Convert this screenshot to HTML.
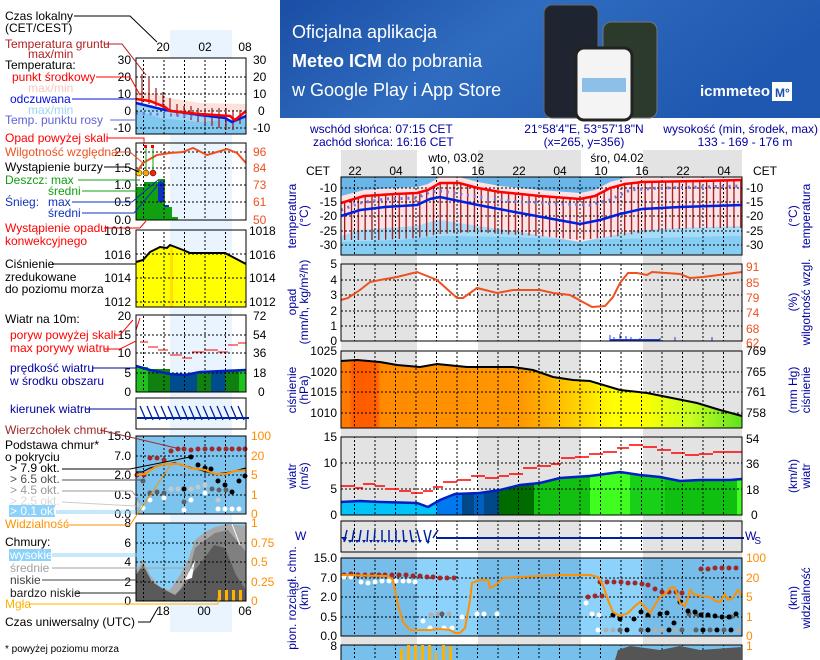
<!DOCTYPE html>
<html><head><meta charset="utf-8"><style>
html,body{margin:0;padding:0;background:#fff;}
svg{display:block;font-family:"Liberation Sans",sans-serif;}
</style></head><body>
<svg width="820" height="660" viewBox="0 0 820 660" xmlns="http://www.w3.org/2000/svg">
<defs>
<pattern id="vg" patternUnits="userSpaceOnUse" x="354" y="0" width="20.5" height="4"><rect x="0" y="0" width="1" height="2" fill="#000"/></pattern>
<pattern id="vgl" patternUnits="userSpaceOnUse" x="143" y="0" width="20.5" height="4"><rect x="0" y="0" width="1" height="2" fill="#000"/></pattern>
<pattern id="gt" patternUnits="userSpaceOnUse" x="344" y="0" width="6.83" height="10"><rect x="0" y="0" width="1.3" height="10" fill="#a01818"/></pattern>
<pattern id="gtl" patternUnits="userSpaceOnUse" x="140" y="0" width="6.83" height="10"><rect x="0" y="0" width="1.2" height="10" fill="#a01818"/></pattern>
<linearGradient id="ban" x1="0" y1="0" x2="1" y2="0.3"><stop offset="0" stop-color="#1b4ea6"/><stop offset="0.45" stop-color="#2f6cbf"/><stop offset="1" stop-color="#1f58b0"/></linearGradient>
<linearGradient id="pres" x1="341" y1="0" x2="742" y2="0" gradientUnits="userSpaceOnUse">
<stop offset="0" stop-color="#ff7a00"/><stop offset="0.02" stop-color="#ff7a00"/><stop offset="0.03" stop-color="#ff5a00"/><stop offset="0.09" stop-color="#ff6000"/><stop offset="0.1" stop-color="#ff8a00"/><stop offset="0.45" stop-color="#ff9800"/><stop offset="0.55" stop-color="#ffc000"/><stop offset="0.68" stop-color="#ffff00"/><stop offset="0.75" stop-color="#ffff00"/><stop offset="0.87" stop-color="#c8ff20"/><stop offset="1" stop-color="#60e020"/></linearGradient>
</defs>

<!-- BANNER -->
<rect x="280" y="0" width="540" height="118" fill="url(#ban)"/>
<text x="292" y="38" fill="#fff" font-size="18">Oficjalna aplikacja</text>
<text x="292" y="67" fill="#fff" font-size="18"><tspan font-weight="bold">Meteo ICM</tspan> do pobrania</text>
<text x="292" y="96" fill="#fff" font-size="18">w Google Play i App Store</text>
<rect x="544" y="5" width="54" height="113" rx="8" fill="#1e2530" stroke="#666"/>
<rect x="603" y="22" width="54" height="96" rx="8" fill="#2c3a2c" stroke="#777"/>
<rect x="576" y="48" width="56" height="72" rx="8" fill="#f4f4f4" stroke="#222" stroke-width="3"/>
<rect x="582" y="78" width="44" height="14" fill="#8cc0e8"/>
<text x="700" y="96" fill="#fff" font-size="15" font-weight="bold">icmmeteo</text>
<rect x="772" y="82" width="20" height="19" fill="#fff"/><text x="775" y="97" fill="#1b4ea6" font-size="12" font-weight="bold">M°</text>

<!-- HEADER -->
<g fill="#0000a0" font-size="12">
<text x="310" y="133">wschód słońca: 07:15 CET</text>
<text x="313" y="146">zachód słońca: 16:16 CET</text>
<text x="584" y="133" text-anchor="middle">21°58'4"E, 53°57'18"N</text>
<text x="584" y="146" text-anchor="middle">(x=265,  y=356)</text>
<text x="818" y="133" text-anchor="end">wysokość (min, środek, max)</text>
<text x="745" y="146" text-anchor="middle">133 - 169 - 176 m</text>
</g>

<!-- main column shading -->
<rect x="341" y="150" width="76" height="510" fill="#e3e3e3"/>
<rect x="478" y="150" width="103" height="510" fill="#e3e3e3"/>
<rect x="643" y="150" width="99" height="510" fill="#e3e3e3"/>
<g font-size="12" fill="#000">
<text x="456" y="162" text-anchor="middle">wto, 03.02</text>
<text x="617" y="162" text-anchor="middle">śro, 04.02</text>
<text x="318" y="175" text-anchor="middle">CET</text><text x="765" y="175" text-anchor="middle">CET</text>
<text x="355" y="175" text-anchor="middle">22</text><text x="396" y="175" text-anchor="middle">04</text>
<text x="437" y="175" text-anchor="middle">10</text><text x="478" y="175" text-anchor="middle">16</text>
<text x="519" y="175" text-anchor="middle">22</text><text x="560" y="175" text-anchor="middle">04</text>
<text x="601" y="175" text-anchor="middle">10</text><text x="642" y="175" text-anchor="middle">16</text>
<text x="683" y="175" text-anchor="middle">22</text><text x="724" y="175" text-anchor="middle">04</text>
</g>

<!-- MAIN TEMP PANEL 177-255 -->
<rect x="341" y="177" width="401" height="78" fill="#6ab6e8"/>
<polygon points="341,227 400,225 440,218 500,224 560,228 600,224 660,222 742,216 742,236 660,238 580,240 500,237 440,236 400,240 341,242" fill="#a6dcf8"/>
<polygon points="341,242 400,240 440,236 500,237 580,240 660,238 742,236 742,255 341,255" fill="#86cdf4"/>
<polygon points="341,196 364,190 395,188 417,187 428,184 440,177 459,177 478,182 500,186 540,190 580,193 595,190 610,182 625,178 642,177 700,177 742,177 742,226 680,228 642,230 620,234 600,238 580,242 520,232 478,226 440,220 430,222 417,226 385,228 360,230 341,236" fill="#fde2e6"/>
<polygon points="341,203 364,196 395,194 417,193 428,190 440,183 459,183 478,188 500,192 540,196 580,199 595,196 610,188 625,184 642,182 700,181 742,180 742,228 700,228 660,230 620,236 580,240 540,236 500,234 478,232 440,234 417,238 380,240 341,240" fill="url(#gt)"/>
<line x1="341" y1="188" x2="742" y2="188" stroke="#000" stroke-dasharray="2,2"/>
<line x1="341" y1="202" x2="742" y2="202" stroke="#000" stroke-dasharray="2,2"/>
<line x1="341" y1="216" x2="742" y2="216" stroke="#000" stroke-dasharray="2,2"/>
<line x1="341" y1="231" x2="742" y2="231" stroke="#000" stroke-dasharray="2,2"/>
<line x1="341" y1="245" x2="742" y2="245" stroke="#000" stroke-dasharray="2,2"/>
<rect x="341" y="177" width="401" height="78" fill="url(#vg)"/>
<polyline points="341,210 360,203 385,199 417,198 430,192 440,191 478,197 520,202 560,204 590,205 610,200 630,190 660,188 742,186" fill="none" stroke="#7070e0" stroke-width="3" stroke-dasharray="2,4.8"/>
<polyline points="341,216 360,210 385,207 417,205 430,199 440,197 478,205 520,213 580,224 600,220 620,214 642,209 680,207 742,205" fill="none" stroke="#0020e0" stroke-width="2.5"/>
<polyline points="341,203 364,196 395,194 417,193 428,190 440,183 459,183 478,188 500,192 540,196 580,199 595,196 610,188 625,184 642,182 700,181 742,180" fill="none" stroke="#ff0000" stroke-width="2.5"/>
<rect x="341" y="177" width="401" height="78" fill="none" stroke="#000"/>
<g font-size="12" fill="#000">
<text x="337" y="192" text-anchor="end">-10</text><text x="337" y="206" text-anchor="end">-15</text><text x="337" y="220" text-anchor="end">-20</text><text x="337" y="235" text-anchor="end">-25</text><text x="337" y="249" text-anchor="end">-30</text>
<text x="746" y="192">-10</text><text x="746" y="206">-15</text><text x="746" y="220">-20</text><text x="746" y="235">-25</text><text x="746" y="249">-30</text>
</g>
<g fill="#0000a0" font-size="12">
<text transform="translate(296,216) rotate(-90)" text-anchor="middle">temperatura</text>
<text transform="translate(308,216) rotate(-90)" text-anchor="middle">(°C)</text>
<text transform="translate(797,216) rotate(-90)" text-anchor="middle">(°C)</text>
<text transform="translate(810,216) rotate(-90)" text-anchor="middle">temperatura</text>
</g>

<!-- OPAD PANEL 264-341 -->
<line x1="341" y1="280" x2="742" y2="280" stroke="#000" stroke-dasharray="2,2"/>
<line x1="341" y1="295" x2="742" y2="295" stroke="#000" stroke-dasharray="2,2"/>
<line x1="341" y1="311" x2="742" y2="311" stroke="#000" stroke-dasharray="2,2"/>
<line x1="341" y1="326" x2="742" y2="326" stroke="#000" stroke-dasharray="2,2"/>
<rect x="341" y="264" width="401" height="77" fill="url(#vg)"/>
<g stroke="#2040e0" stroke-width="1"><line x1="610" y1="341" x2="610" y2="335"/><line x1="614" y1="341" x2="614" y2="337"/><line x1="620" y1="341" x2="620" y2="334"/><line x1="626" y1="341" x2="626" y2="336"/><line x1="631" y1="341" x2="631" y2="337"/><line x1="640" y1="341" x2="640" y2="338"/><line x1="660" y1="341" x2="660" y2="338"/><line x1="675" y1="341" x2="675" y2="337"/><line x1="712" y1="341" x2="712" y2="337"/></g>
<line x1="610" y1="340" x2="660" y2="340" stroke="#2040e0" stroke-width="2"/>
<polyline points="341,300 348,298 360,290 370,282 380,280 397,277 417,272 437,280 457,298 463,298 477,288 497,293 513,290 540,290 553,293 570,295 592,307 605,306 613,297 620,283 628,273 637,273 647,275 652,272 680,274 690,278 703,277 742,272" fill="none" stroke="#f05020" stroke-width="2"/>
<rect x="341" y="264" width="401" height="77" fill="none" stroke="#000"/>
<g font-size="12" fill="#000">
<text x="337" y="268" text-anchor="end">5</text><text x="337" y="284" text-anchor="end">4</text><text x="337" y="299" text-anchor="end">3</text><text x="337" y="315" text-anchor="end">2</text><text x="337" y="330" text-anchor="end">1</text><text x="337" y="345" text-anchor="end">0</text>
</g>
<g font-size="12" fill="#f05020">
<text x="746" y="271">91</text><text x="746" y="287">85</text><text x="746" y="302">79</text><text x="746" y="317">74</text><text x="746" y="333">68</text><text x="746" y="347">62</text>
</g>
<g fill="#0000a0" font-size="12">
<text transform="translate(296,302) rotate(-90)" text-anchor="middle">opad</text>
<text transform="translate(308,302) rotate(-90)" text-anchor="middle">(mm/h, kg/m²/h)</text>
<text transform="translate(797,302) rotate(-90)" text-anchor="middle">(%)</text>
<text transform="translate(810,302) rotate(-90)" text-anchor="middle">wilgotność wzgl.</text>
</g>

<!-- PRESSURE PANEL 351-428 -->
<polygon points="341,361 357,360 380,362 397,365 420,367 437,364 447,365 467,367 513,367 533,370 553,377 573,380 590,381 620,390 647,393 667,397 697,403 720,410 742,416 742,428 341,428" fill="url(#pres)"/>
<line x1="341" y1="372" x2="742" y2="372" stroke="#000" stroke-dasharray="2,2"/>
<line x1="341" y1="392" x2="742" y2="392" stroke="#000" stroke-dasharray="2,2"/>
<line x1="341" y1="413" x2="742" y2="413" stroke="#000" stroke-dasharray="2,2"/>
<rect x="341" y="351" width="401" height="77" fill="url(#vg)"/>
<polyline points="341,361 357,360 380,362 397,365 420,367 437,364 447,365 467,367 513,367 533,370 553,377 573,380 590,381 620,390 647,393 667,397 697,403 720,410 742,416" fill="none" stroke="#000" stroke-width="2"/>
<rect x="341" y="351" width="401" height="77" fill="none" stroke="#000"/>
<g font-size="12" fill="#000">
<text x="337" y="355" text-anchor="end">1025</text><text x="337" y="376" text-anchor="end">1020</text><text x="337" y="396" text-anchor="end">1015</text><text x="337" y="417" text-anchor="end">1010</text>
<text x="746" y="355">769</text><text x="746" y="376">765</text><text x="746" y="396">761</text><text x="746" y="417">758</text>
</g>
<g fill="#0000a0" font-size="12">
<text transform="translate(296,390) rotate(-90)" text-anchor="middle">ciśnienie</text>
<text transform="translate(308,390) rotate(-90)" text-anchor="middle">(hPa)</text>
<text transform="translate(797,390) rotate(-90)" text-anchor="middle">(mm Hg)</text>
<text transform="translate(810,390) rotate(-90)" text-anchor="middle">ciśnienie</text>
</g>

<!-- WIND PANEL 437-515 -->
<g>
<rect x="341" y="490" width="96" height="25" fill="#00c4f8"/>
<polygon points="437,500 450,492 462,488 462,515 437,515" fill="#0078f0"/>
<rect x="462" y="485" width="12" height="30" fill="#004888"/>
<rect x="474" y="485" width="10" height="30" fill="#0060c0"/>
<rect x="484" y="482" width="15" height="33" fill="#004888"/>
<rect x="499" y="478" width="35" height="37" fill="#006c00"/>
<rect x="534" y="474" width="56" height="41" fill="#12c012"/>
<rect x="590" y="470" width="40" height="45" fill="#40ff20"/>
<rect x="630" y="472" width="35" height="43" fill="#18d018"/>
<rect x="665" y="475" width="72" height="40" fill="#10c010"/>
<rect x="737" y="475" width="5" height="40" fill="#40ff20"/>
<polygon points="341,440 341,502 360,501 380,502 417,503 428,507 440,500 455,494 480,493 500,490 520,485 540,483 560,478 590,476 620,472 640,475 660,477 680,481 700,480 730,480 742,479 742,440" fill="#e3e3e3"/>
<polygon points="417,440 417,503 428,507 440,500 455,494 478,493 478,440" fill="#fff"/>
<polygon points="581,440 581,475 620,472 640,475 643,475 643,440" fill="#fff"/>
</g>
<line x1="341" y1="463" x2="742" y2="463" stroke="#000" stroke-dasharray="2,2"/>
<line x1="341" y1="489" x2="742" y2="489" stroke="#000" stroke-dasharray="2,2"/>
<rect x="341" y="437" width="401" height="78" fill="url(#vg)"/>
<polyline points="341,502 360,501 380,502 417,503 428,507 440,500 455,494 480,493 500,490 520,485 540,483 560,478 590,476 620,472 640,475 660,477 680,481 700,480 730,480 742,479" fill="none" stroke="#0020c0" stroke-width="2.5"/>
<g stroke="#ff0000" stroke-width="1.5">
<path d="M341,486h14M355,488h8M363,484h12M375,486h10M385,489h14M399,491h12M411,493h12M423,491h10M433,487h10M443,482h14M457,480h14M471,476h14M485,478h14M499,476h10M509,474h14M523,468h14M537,466h14M551,464h10M561,458h14M575,457h14M589,454h14M603,452h14M617,448h12M629,445h14M643,447h14M657,450h14M671,453h14M685,455h14M699,454h14M713,452h14M727,452h15"/>
</g>
<rect x="341" y="437" width="401" height="78" fill="none" stroke="#000"/>
<g font-size="12" fill="#000">
<text x="337" y="441" text-anchor="end">15</text><text x="337" y="467" text-anchor="end">10</text><text x="337" y="493" text-anchor="end">5</text><text x="337" y="519" text-anchor="end">0</text>
<text x="746" y="443">54</text><text x="746" y="468">36</text><text x="746" y="494">18</text><text x="751" y="519">0</text>
</g>
<g fill="#0000a0" font-size="12">
<text transform="translate(296,476) rotate(-90)" text-anchor="middle">wiatr</text>
<text transform="translate(308,476) rotate(-90)" text-anchor="middle">(m/s)</text>
<text transform="translate(797,476) rotate(-90)" text-anchor="middle">(km/h)</text>
<text transform="translate(810,476) rotate(-90)" text-anchor="middle">wiatr</text>
</g>

<!-- DIRECTION 521-552 -->
<rect x="341" y="521" width="401" height="31" fill="#fff"/>
<rect x="341" y="521" width="76" height="31" fill="#e3e3e3"/><rect x="478" y="521" width="103" height="31" fill="#e3e3e3"/><rect x="643" y="521" width="99" height="31" fill="#e3e3e3"/>
<rect x="341" y="521" width="401" height="31" fill="url(#vg)"/>
<g stroke="#0020a0" stroke-width="1.5" fill="none">
<path d="M347,530l-3,12M354,530l-2,12M361,530l-2,12M368,530l-1,12M375,530l-1,12M382,530l0,12M389,530l0,12M396,530l0,12M403,530l1,12M410,530l2,12M417,530l3,12M424,530l3,12M431,530l-3,12M438,530l-5,8"/>
<path d="M436,538h308" stroke-width="2"/>
</g>
<g fill="#0020a0"><path d="M341,537l4,5l2,-5zM348,540l2,3l2,-3zM355,540l2,3l2,-3zM362,540l2,3l2,-3zM369,540l2,3l2,-3zM376,540l2,3l2,-3zM383,540l2,3l2,-3zM390,540l2,3l2,-3zM397,540l2,3l2,-3zM404,540l2,3l2,-3zM411,540l2,3l2,-3zM418,540l2,3l2,-3zM426,541l2,3l2,-3z"/></g>
<text x="745" y="540" fill="#0000a0" font-size="12" style="letter-spacing:-2px">W<tspan font-size="10" dy="4">S</tspan></text>
<text x="295" y="540" fill="#0000a0" font-size="12">W</text>
<rect x="341" y="521" width="401" height="31" fill="none" stroke="#000"/>

<!-- CLOUD PANEL 558-636 -->
<rect x="341" y="558" width="401" height="78" fill="#76bdea"/>
<rect x="417" y="558" width="61" height="78" fill="#8cd2fa"/><rect x="581" y="558" width="62" height="78" fill="#8cd2fa"/>
<line x1="341" y1="578" x2="742" y2="578" stroke="#000" stroke-dasharray="2,2"/>
<line x1="341" y1="597" x2="742" y2="597" stroke="#000" stroke-dasharray="2,2"/>
<line x1="341" y1="617" x2="742" y2="617" stroke="#000" stroke-dasharray="2,2"/>
<rect x="341" y="558" width="401" height="78" fill="url(#vg)"/>
<g fill="#a02828">
<circle cx="344" cy="575" r="2.5"/><circle cx="351" cy="574" r="2.5"/><circle cx="358" cy="575" r="2.5"/><circle cx="365" cy="575" r="2.5"/><circle cx="372" cy="575" r="2.5"/><circle cx="379" cy="575" r="2.5"/><circle cx="385" cy="575" r="2.5"/><circle cx="392" cy="575" r="2.5"/><circle cx="399" cy="575" r="2.5"/><circle cx="406" cy="575" r="2.5"/><circle cx="413" cy="576" r="2.5"/><circle cx="420" cy="576" r="2.5"/><circle cx="427" cy="577" r="2.5"/><circle cx="433" cy="577" r="2.5"/><circle cx="440" cy="578" r="2.5"/><circle cx="447" cy="578" r="2.5"/><circle cx="454" cy="578" r="2.5"/>
<circle cx="600" cy="582" r="2.5"/><circle cx="607" cy="582" r="2.5"/><circle cx="614" cy="582" r="2.5"/><circle cx="621" cy="582" r="2.5"/><circle cx="628" cy="583" r="2.5"/><circle cx="635" cy="583" r="2.5"/><circle cx="642" cy="584" r="2.5"/><circle cx="648" cy="585" r="2.5"/><circle cx="655" cy="589" r="2.5"/><circle cx="662" cy="592" r="2.5"/><circle cx="669" cy="592" r="2.5"/><circle cx="676" cy="592" r="2.5"/><circle cx="682" cy="593" r="2.5"/>
<circle cx="588" cy="597" r="2.5"/><circle cx="595" cy="596" r="2.5"/><circle cx="602" cy="596" r="2.5"/>
<circle cx="701" cy="569" r="2.5"/><circle cx="708" cy="569" r="2.5"/><circle cx="715" cy="568" r="2.5"/><circle cx="722" cy="568" r="2.5"/><circle cx="729" cy="568" r="2.5"/><circle cx="736" cy="568" r="2.5"/>
</g>
<g fill="#fff">
<circle cx="344" cy="577" r="2.5"/><circle cx="351" cy="577" r="2.5"/><circle cx="361" cy="582" r="2.5"/><circle cx="368" cy="583" r="2.5"/><circle cx="375" cy="582" r="2.5"/><circle cx="382" cy="581" r="2.5"/><circle cx="389" cy="581" r="2.5"/><circle cx="396" cy="581" r="2.5"/><circle cx="403" cy="581" r="2.5"/><circle cx="409" cy="581" r="2.5"/><circle cx="415" cy="582" r="2.5"/>
<circle cx="423" cy="621" r="2.5"/><circle cx="430" cy="628" r="2.5"/><circle cx="444" cy="628" r="2.5"/><circle cx="452" cy="628" r="2.5"/><circle cx="462" cy="617" r="2.5"/><circle cx="477" cy="614" r="2.5"/><circle cx="484" cy="614" r="2.5"/><circle cx="497" cy="614" r="2.5"/>
<circle cx="586" cy="603" r="2.5"/><circle cx="592" cy="614" r="2.5"/><circle cx="599" cy="615" r="2.5"/><circle cx="598" cy="630" r="2.5"/>
</g>
<g fill="#b0b0b0"><circle cx="431" cy="615" r="2.5"/><circle cx="438" cy="614" r="2.5"/><circle cx="449" cy="614" r="2.5"/><circle cx="606" cy="630" r="2.5"/><circle cx="613" cy="630" r="2.5"/><circle cx="627" cy="630" r="2.5"/><circle cx="655" cy="630" r="2.5"/><circle cx="662" cy="630" r="2.5"/><circle cx="675" cy="630" r="2.5"/><circle cx="738" cy="630" r="2.5"/></g>
<g fill="#606060"><circle cx="442" cy="614" r="2.5"/><circle cx="620" cy="630" r="2.5"/><circle cx="641" cy="630" r="2.5"/><circle cx="682" cy="630" r="2.5"/><circle cx="696" cy="630" r="2.5"/><circle cx="710" cy="630" r="2.5"/><circle cx="724" cy="630" r="2.5"/><circle cx="689" cy="614" r="2.5"/><circle cx="696" cy="614" r="2.5"/><circle cx="731" cy="617" r="2.5"/></g>
<g fill="#000"><circle cx="613" cy="615" r="2.5"/><circle cx="620" cy="619" r="2.5"/><circle cx="634" cy="619" r="2.5"/><circle cx="641" cy="612" r="2.5"/><circle cx="648" cy="615" r="2.5"/><circle cx="660" cy="614" r="2.5"/><circle cx="667" cy="613" r="2.5"/><circle cx="674" cy="623" r="2.5"/><circle cx="680" cy="602" r="2.5"/><circle cx="688" cy="611" r="2.5"/><circle cx="695" cy="612" r="2.5"/><circle cx="701" cy="615" r="2.5"/><circle cx="708" cy="615" r="2.5"/><circle cx="715" cy="616" r="2.5"/><circle cx="722" cy="617" r="2.5"/><circle cx="729" cy="617" r="2.5"/><circle cx="736" cy="614" r="2.5"/><circle cx="627" cy="630" r="2.5"/><circle cx="648" cy="630" r="2.5"/><circle cx="669" cy="630" r="2.5"/><circle cx="703" cy="630" r="2.5"/><circle cx="717" cy="630" r="2.5"/><circle cx="731" cy="630" r="2.5"/></g>
<polyline points="341,575 388,576 393,580 398,605 403,622 410,630 430,630 440,629 450,630 455,633 460,633 465,628 470,600 472,583 480,580 488,580 490,588 494,586 498,583 503,578 540,576 560,575 590,575 598,577 603,585 608,600 613,612 620,616 628,613 635,606 640,602 645,607 650,613 655,605 660,597 665,594 670,588 674,587 676,591 680,603 685,606 688,598 690,590 693,594 700,596 710,597 715,601 720,602 725,594 728,600 733,598 738,590 742,596" fill="none" stroke="#ff9000" stroke-width="2"/>
<rect x="341" y="558" width="401" height="78" fill="none" stroke="#000"/>
<g font-size="12" fill="#000">
<text x="337" y="562" text-anchor="end">15.0</text><text x="337" y="582" text-anchor="end">7.0</text><text x="337" y="601" text-anchor="end">2.0</text><text x="337" y="621" text-anchor="end">0.5</text><text x="337" y="640" text-anchor="end">0.0</text>
</g>
<g font-size="12" fill="#ff8c00">
<text x="746" y="562">100</text><text x="746" y="582">20</text><text x="746" y="601">5</text><text x="746" y="621">1</text><text x="746" y="640">0</text>
</g>
<g fill="#0000a0" font-size="12">
<text transform="translate(296,598) rotate(-90)" text-anchor="middle">pion. rozciągł. chm.</text>
<text transform="translate(308,598) rotate(-90)" text-anchor="middle">(km)</text>
<text transform="translate(797,598) rotate(-90)" text-anchor="middle">(km)</text>
<text transform="translate(810,598) rotate(-90)" text-anchor="middle">widzialność</text>
</g>

<!-- BOTTOM PANEL -->
<rect x="341" y="645" width="401" height="20" fill="#78c0ec" stroke="#000"/>
<rect x="341" y="645" width="401" height="20" fill="url(#vg)"/>
<g fill="#ffb000"><rect x="400" y="649" width="3" height="11"/><rect x="407" y="645" width="3" height="15"/><rect x="414" y="645" width="3" height="15"/><rect x="421" y="645" width="3" height="15"/><rect x="428" y="645" width="3" height="15"/><rect x="435" y="652" width="2" height="8"/><rect x="442" y="645" width="3" height="15"/><rect x="449" y="646" width="3" height="14"/></g>
<path d="M615,660 L618,650 L630,646 L660,650 L680,646 L700,650 L742,647 L742,660Z" fill="#555"/>
<text x="337" y="650" text-anchor="end" font-size="12">8</text>
<text x="746" y="650" font-size="12" fill="#ff8c00">1</text>

<!-- LEFT PANEL -->
<rect x="170" y="30" width="62" height="602" fill="#eaf4ff"/>
<g font-size="12" fill="#000">
<text x="163" y="51" text-anchor="middle">20</text><text x="205" y="51" text-anchor="middle">02</text><text x="245" y="51" text-anchor="middle">08</text>
</g>
<!-- left temp 58-134 -->
<rect x="136" y="58" width="110" height="76" fill="#fff"/>
<polygon points="136,90 170,98 200,103 246,104 246,110 200,112 170,110 136,98" fill="#fde2dc"/>
<polygon points="136,103 165,110 200,115 225,118 232,122 246,116 246,134 136,134" fill="#9fd8f6"/>
<polygon points="136,110 160,118 200,122 246,118 246,134 136,134" fill="#80c8f0"/>
<line x1="136" y1="77" x2="246" y2="77" stroke="#000" stroke-dasharray="2,2"/><line x1="136" y1="94" x2="246" y2="94" stroke="#000" stroke-dasharray="2,2"/><line x1="136" y1="111" x2="246" y2="111" stroke="#000" stroke-dasharray="2,2"/><line x1="136" y1="128" x2="246" y2="128" stroke="#000" stroke-dasharray="2,2"/>
<rect x="136" y="58" width="110" height="76" fill="url(#vgl)"/>
<g stroke="#a01818" stroke-width="1.2">
<path d="M142,74V104M149,78V104M156,88V106M163,92V108M170,98V112M177,104V116M184,106V118M191,106V120M198,108V122M205,108V124M212,108V126M219,108V128M226,108V130M233,110V130M240,110V124"/>
</g>
<polyline points="136,113 170,115 200,117 246,117" fill="none" stroke="#7070e0" stroke-width="3" stroke-dasharray="2,4.8"/>
<polyline points="136,103 165,110 200,115 225,118 232,122 246,116" fill="none" stroke="#0020e0" stroke-width="2.5"/>
<polyline points="136,99 150,101 165,107 170,111 200,114 230,116 235,120 246,111" fill="none" stroke="#ff0000" stroke-width="2.5"/>
<rect x="136" y="58" width="110" height="76" fill="none" stroke="#000"/>
<g font-size="12" fill="#000">
<text x="131" y="64" text-anchor="end">30</text><text x="131" y="81" text-anchor="end">20</text><text x="131" y="98" text-anchor="end">10</text><text x="131" y="115" text-anchor="end">0</text><text x="131" y="132" text-anchor="end">-10</text>
<text x="253" y="64">30</text><text x="253" y="81">20</text><text x="253" y="98">10</text><text x="258" y="115">0</text><text x="253" y="132">-10</text>
</g>
<!-- left opad 143-220 -->
<rect x="136" y="143" width="110" height="77" fill="#fff"/>
<rect x="170" y="143" width="62" height="77" fill="#eaf4ff"/>
<g fill="#10a010"><rect x="136" y="187" width="8" height="33"/><rect x="144" y="182" width="14" height="38"/><rect x="158" y="179" width="7" height="41"/><rect x="165" y="207" width="7" height="13"/><rect x="172" y="217" width="6" height="3"/></g>
<rect x="158" y="182" width="6" height="20" fill="#1030c0"/><rect x="164" y="205" width="5" height="2" fill="#1030c0"/>
<line x1="136" y1="152" x2="246" y2="152" stroke="#000" stroke-dasharray="2,2"/><line x1="136" y1="168" x2="246" y2="168" stroke="#000" stroke-dasharray="2,2"/><line x1="136" y1="185" x2="246" y2="185" stroke="#000" stroke-dasharray="2,2"/><line x1="136" y1="202" x2="246" y2="202" stroke="#000" stroke-dasharray="2,2"/>
<rect x="136" y="143" width="110" height="77" fill="url(#vgl)"/>
<polyline points="136,173 143,163 157,155 170,153 183,152 193,148 207,155 217,152 227,149 237,153 246,163" fill="none" stroke="#f05020" stroke-width="2"/>
<g stroke="#10a010"><line x1="146" y1="173" x2="146" y2="148"/><line x1="153" y1="173" x2="153" y2="148"/></g>
<circle cx="139" cy="173" r="3" fill="#ffd000" stroke="#000" stroke-width="0.5"/><circle cx="146" cy="173" r="3" fill="#ffa000" stroke="#000" stroke-width="0.5"/><circle cx="153" cy="173" r="3" fill="#ff2000" stroke="#000" stroke-width="0.5"/>
<rect x="144" y="145" width="3" height="3" fill="#f00"/><rect x="151" y="145" width="3" height="3" fill="#f00"/>
<rect x="136" y="143" width="110" height="77" fill="none" stroke="#000"/>
<g font-size="12" fill="#000">
<text x="131" y="156" text-anchor="end">2.0</text><text x="131" y="172" text-anchor="end">1.5</text><text x="131" y="189" text-anchor="end">1.0</text><text x="131" y="206" text-anchor="end">0.5</text><text x="131" y="224" text-anchor="end">0.0</text>
</g>
<g font-size="12" fill="#f05020"><text x="253" y="156">96</text><text x="253" y="172">84</text><text x="253" y="189">73</text><text x="253" y="206">61</text><text x="253" y="224">50</text></g>
<!-- left pressure 230-307 -->
<polygon points="136,262 143,260 150,252 160,247 167,248 170,245 183,250 190,253 225,253 246,264 246,307 136,307" fill="#ffff00"/>
<rect x="170" y="246" width="3" height="61" fill="#ffe000"/>
<line x1="136" y1="254" x2="246" y2="254" stroke="#000" stroke-dasharray="2,2"/><line x1="136" y1="278" x2="246" y2="278" stroke="#000" stroke-dasharray="2,2"/><line x1="136" y1="302" x2="246" y2="302" stroke="#000" stroke-dasharray="2,2"/>
<rect x="136" y="230" width="110" height="77" fill="url(#vgl)"/>
<polyline points="136,262 143,260 150,252 160,247 167,248 170,245 183,250 190,253 225,253 246,264" fill="none" stroke="#000" stroke-width="2"/>
<rect x="136" y="230" width="110" height="77" fill="none" stroke="#000"/>
<g font-size="12" fill="#000">
<text x="131" y="235" text-anchor="end">1018</text><text x="131" y="259" text-anchor="end">1016</text><text x="131" y="282" text-anchor="end">1014</text><text x="131" y="306" text-anchor="end">1012</text>
<text x="249" y="235">1018</text><text x="249" y="259">1016</text><text x="249" y="282">1014</text><text x="249" y="306">1012</text>
</g>
<!-- left wind 315-392 -->
<g><rect x="136" y="367" width="12" height="25" fill="#20c020"/><rect x="148" y="369" width="22" height="23" fill="#108010"/><rect x="170" y="374" width="27" height="18" fill="#004c8c"/><rect x="197" y="372" width="14" height="20" fill="#108010"/><rect x="211" y="371" width="14" height="21" fill="#004c8c"/><rect x="225" y="370" width="14" height="22" fill="#108010"/><rect x="239" y="370" width="7" height="22" fill="#20c020"/></g>
<line x1="136" y1="335" x2="246" y2="335" stroke="#000" stroke-dasharray="2,2"/><line x1="136" y1="353" x2="246" y2="353" stroke="#000" stroke-dasharray="2,2"/><line x1="136" y1="373" x2="246" y2="373" stroke="#000" stroke-dasharray="2,2"/>
<rect x="136" y="315" width="110" height="77" fill="url(#vgl)"/>
<polyline points="136,366 150,370 170,374 185,375 200,372 246,370" fill="none" stroke="#0020c0" stroke-width="2.5"/>
<g stroke="#f00" stroke-width="1"><path d="M136,330 L140,318 M140,342h8M148,347h10M158,350h10M170,355h12M182,358h10M192,352h12M204,350h14M218,352h10M228,345h10M238,343h8"/></g>
<rect x="136" y="315" width="110" height="77" fill="none" stroke="#000"/>
<g font-size="12" fill="#000">
<text x="131" y="320" text-anchor="end">20</text><text x="131" y="339" text-anchor="end">15</text><text x="131" y="357" text-anchor="end">10</text><text x="131" y="377" text-anchor="end">5</text><text x="131" y="396" text-anchor="end">0</text>
<text x="253" y="320">72</text><text x="253" y="339">54</text><text x="253" y="357">36</text><text x="253" y="377">18</text><text x="258" y="396">0</text>
</g>
<!-- left direction 398-429 -->
<rect x="136" y="398" width="110" height="31" fill="#fff" stroke="#000"/>
<rect x="170" y="399" width="62" height="29" fill="#eaf4ff"/>
<g stroke="#0020a0" stroke-width="1.3"><path d="M140,406l6,14M147,406l6,14M154,406l6,14M161,406l6,14M168,406l6,14M175,406l6,14M182,406l6,14M189,406l6,14M196,406l6,14M203,406l6,14M210,406l6,14M217,406l6,14M224,406l6,14M231,406l6,14M238,406l6,14"/><path d="M137,418h112" stroke-width="2"/></g>
<!-- left clouds 436-514 -->
<rect x="136" y="436" width="110" height="78" fill="#7cc4ee"/>
<line x1="136" y1="456" x2="246" y2="456" stroke="#000" stroke-dasharray="2,2"/><line x1="136" y1="475" x2="246" y2="475" stroke="#000" stroke-dasharray="2,2"/><line x1="136" y1="495" x2="246" y2="495" stroke="#000" stroke-dasharray="2,2"/>
<rect x="136" y="436" width="110" height="78" fill="url(#vgl)"/>
<g fill="#a02828"><circle cx="137" cy="475" r="2.5"/><circle cx="144" cy="475" r="2.5"/><circle cx="150" cy="458" r="2.5"/><circle cx="157" cy="458" r="2.5"/><circle cx="164" cy="460" r="2.5"/><circle cx="171" cy="451" r="2.5"/><circle cx="178" cy="449" r="2.5"/><circle cx="184" cy="449" r="2.5"/><circle cx="191" cy="450" r="2.5"/><circle cx="198" cy="449" r="2.5"/><circle cx="205" cy="449" r="2.5"/><circle cx="212" cy="449" r="2.5"/><circle cx="219" cy="449" r="2.5"/><circle cx="226" cy="449" r="2.5"/><circle cx="232" cy="449" r="2.5"/><circle cx="239" cy="449" r="2.5"/><circle cx="245" cy="449" r="2.5"/></g>
<g fill="#000"><circle cx="191" cy="457" r="2.5"/><circle cx="198" cy="465" r="2.5"/><circle cx="205" cy="468" r="2.5"/><circle cx="211" cy="469" r="2.5"/><circle cx="218" cy="481" r="2.5"/><circle cx="225" cy="485" r="2.5"/><circle cx="232" cy="492" r="2.5"/><circle cx="239" cy="481" r="2.5"/><circle cx="245" cy="476" r="2.5"/><circle cx="184" cy="489" r="2.5"/></g>
<g fill="#606060"><circle cx="143" cy="481" r="2.5"/><circle cx="150" cy="493" r="2.5"/><circle cx="157" cy="492" r="2.5"/><circle cx="164" cy="493" r="2.5"/><circle cx="212" cy="489" r="2.5"/><circle cx="219" cy="490" r="2.5"/><circle cx="226" cy="490" r="2.5"/><circle cx="184" cy="502" r="2.5"/></g>
<g fill="#c8c8c8"><circle cx="171" cy="489" r="2.5"/><circle cx="178" cy="489" r="2.5"/><circle cx="191" cy="489" r="2.5"/><circle cx="198" cy="487" r="2.5"/><circle cx="205" cy="485" r="2.5"/><circle cx="218" cy="500" r="2.5"/><circle cx="137" cy="505" r="2.5"/></g>
<g fill="#fff"><circle cx="143" cy="508" r="2.5"/><circle cx="150" cy="500" r="2.5"/><circle cx="164" cy="498" r="2.5"/><circle cx="184" cy="510" r="2.5"/><circle cx="191" cy="500" r="2.5"/><circle cx="205" cy="493" r="2.5"/><circle cx="218" cy="509" r="2.5"/><circle cx="225" cy="509" r="2.5"/><circle cx="232" cy="509" r="2.5"/><circle cx="239" cy="509" r="2.5"/></g>
<polyline points="136,472 142,472 150,468 160,465 175,463 185,466 200,470 215,474 225,473 235,471 246,468" fill="none" stroke="#000" stroke-width="1.2"/>
<polyline points="136,475 145,474 155,467 165,464 180,464 190,468 205,470 215,474 225,474 235,471 246,470" fill="none" stroke="#ff9000" stroke-width="2"/>
<rect x="136" y="436" width="110" height="78" fill="none" stroke="#000"/>
<g font-size="12" fill="#000">
<text x="131" y="440" text-anchor="end">15.0</text><text x="131" y="460" text-anchor="end">7.0</text><text x="131" y="479" text-anchor="end">2.0</text><text x="131" y="499" text-anchor="end">0.5</text><text x="131" y="518" text-anchor="end">0.0</text>
</g>
<g font-size="12" fill="#ff8c00"><text x="251" y="440">100</text><text x="251" y="460">20</text><text x="251" y="479">5</text><text x="251" y="499">1</text><text x="251" y="518">0</text></g>
<!-- left cloud types 523-601 -->
<rect x="136" y="523" width="110" height="78" fill="#88d0f8"/>
<path d="M136,601 L136,572 L143,560 L150,575 L160,588 L170,590 L180,575 L188,560 L195,540 L205,532 L215,527 L228,524 L246,526 L246,601Z" fill="#a8a8a8"/>
<path d="M170,601 L180,590 L188,575 L195,548 L205,540 L215,533 L228,530 L246,552 L246,601Z" fill="#808080"/>
<path d="M136,601 L136,575 L143,565 L152,582 L165,590 L175,595 L185,585 L195,570 L203,560 L214,545 L225,548 L236,575 L246,590 L246,601Z" fill="#5a5a5a"/>
<path d="M185,580 L190,570 L195,560 L192,578Z" fill="#fff"/>
<path d="M232,524 L240,545" stroke="#fff" fill="none"/>
<line x1="136" y1="543" x2="246" y2="543" stroke="#000" stroke-dasharray="2,2"/><line x1="136" y1="562" x2="246" y2="562" stroke="#000" stroke-dasharray="2,2"/><line x1="136" y1="582" x2="246" y2="582" stroke="#000" stroke-dasharray="2,2"/>
<rect x="136" y="523" width="110" height="78" fill="url(#vgl)"/>
<g fill="#ffb000"><rect x="218" y="590" width="3" height="11"/><rect x="225" y="590" width="3" height="11"/><rect x="232" y="590" width="3" height="11"/><rect x="239" y="590" width="3" height="11"/></g>
<rect x="136" y="523" width="110" height="78" fill="none" stroke="#000"/>
<g font-size="12" fill="#000"><text x="131" y="527" text-anchor="end">8</text><text x="131" y="547" text-anchor="end">6</text><text x="131" y="566" text-anchor="end">4</text><text x="131" y="586" text-anchor="end">2</text><text x="131" y="605" text-anchor="end">0</text></g>
<g font-size="12" fill="#ff8c00"><text x="251" y="527">1</text><text x="251" y="547">0.75</text><text x="251" y="566">0.5</text><text x="251" y="586">0.25</text><text x="251" y="605">0</text></g>
<g font-size="12" fill="#000"><text x="163" y="615" text-anchor="middle">18</text><text x="204" y="615" text-anchor="middle">00</text><text x="245" y="615" text-anchor="middle">06</text></g>

<!-- LEFT LABELS -->
<g font-size="12">
<text x="5" y="20" fill="#000">Czas lokalny</text><text x="5" y="32" fill="#000">(CET/CEST)</text>
<text x="5" y="48" fill="#b02020">Temperatura gruntu</text><text x="28" y="58" fill="#b02020">max/min</text>
<text x="5" y="69" fill="#000">Temperatura:</text>
<text x="12" y="81" fill="#ff0000">punkt środkowy</text>
<text x="28" y="92" fill="#f8c8c0">max/min</text>
<text x="10" y="103" fill="#0010e0">odczuwana</text>
<text x="28" y="114" fill="#9ad4f4">max/min</text>
<text x="5" y="124" fill="#6060d8">Temp. punktu rosy</text>
<text x="5" y="142" fill="#ff0000">Opad powyżej skali</text>
<text x="5" y="156" fill="#f05020">Wilgotność względna</text>
<text x="5" y="171" fill="#000">Wystąpienie burzy</text>
<text x="5" y="184" fill="#10a010">Deszcz: max</text>
<text x="48" y="195" fill="#10a010">średni</text>
<text x="5" y="206" fill="#1030c0">Śnieg:</text><text x="48" y="206" fill="#1030c0">max</text>
<text x="48" y="217" fill="#1030c0">średni</text>
<text x="5" y="232" fill="#ff0000">Wystąpienie opadu</text><text x="5" y="245" fill="#ff0000">konwekcyjnego</text>
<text x="5" y="268" fill="#000">Ciśnienie</text><text x="5" y="281" fill="#000">zredukowane</text><text x="5" y="293" fill="#000">do poziomu morza</text>
<text x="5" y="323" fill="#000">Wiatr na 10m:</text>
<text x="10" y="339" fill="#ff0000">poryw powyżej skali</text>
<text x="10" y="352" fill="#ff0000">max porywy wiatru</text>
<text x="10" y="372" fill="#0000a0">prędkość wiatru</text><text x="10" y="385" fill="#0000a0">w środku obszaru</text>
<text x="10" y="413" fill="#0000a0">kierunek wiatru</text>
<text x="5" y="434" fill="#a02828">Wierzchołek chmur</text>
<text x="5" y="449" fill="#000">Podstawa chmur*</text><text x="5" y="461" fill="#000">o pokryciu</text>
<text x="10" y="472" fill="#000">&gt; 7.9 okt.</text>
<text x="10" y="483" fill="#505050">&gt; 6.5 okt.</text>
<text x="10" y="494" fill="#999">&gt; 4.5 okt.</text>
<text x="10" y="505" fill="#d8d8d8">&gt; 2.5 okt.</text>
<rect x="9" y="505" width="46" height="12" fill="#8cd2fa"/>
<text x="10" y="515" fill="#fff">&gt; 0.1 okt.</text>
<text x="5" y="528" fill="#ff9000">Widzialność</text>
<text x="5" y="546" fill="#000">Chmury:</text>
<rect x="9" y="549" width="42" height="12" fill="#8cd2fa"/>
<text x="10" y="559" fill="#fff">wysokie</text>
<text x="10" y="572" fill="#a0a0a0">średnie</text>
<text x="10" y="584" fill="#404040">niskie</text>
<text x="10" y="597" fill="#202020">bardzo niskie</text>
<text x="5" y="608" fill="#ffb000">Mgła</text>
<text x="5" y="626" fill="#000">Czas uniwersalny (UTC)</text>
<text x="5" y="652" fill="#000" font-size="10">* powyżej poziomu morza</text>
</g>
<!-- connector lines -->
<g fill="none" stroke-width="1">
<path d="M74,16 L130,16 L157,42" stroke="#000"/>
<path d="M104,44 L122,44 L146,75" stroke="#b02020"/>
<path d="M96,77 L110,77 L130,77 L140,95" stroke="#ff0000"/>
<path d="M72,99 L136,99" stroke="#0010e0"/>
<path d="M110,120 L136,120" stroke="#6060d8"/>
<path d="M107,138 L144,138 L144,144" stroke="#ff0000"/>
<path d="M116,152 L130,152 L143,163" stroke="#f05020"/>
<path d="M104,167 L128,167 L139,172" stroke="#000"/>
<path d="M78,180 L140,180" stroke="#10a010"/><path d="M82,191 L142,191" stroke="#10a010"/>
<path d="M72,202 L132,202 L158,180" stroke="#1030c0"/><path d="M82,213 L134,213 L162,180" stroke="#1030c0"/>
<path d="M104,228 L140,228 L146,221" stroke="#ff0000"/>
<path d="M52,264 L136,264" stroke="#000"/>
<path d="M115,335 L120,335 L133,320" stroke="#ff0000"/>
<path d="M104,349 L120,349 L136,341" stroke="#ff0000"/>
<path d="M92,368 L136,368" stroke="#0000a0"/>
<path d="M86,409 L136,409" stroke="#0000a0"/>
<path d="M100,430 L176,448" stroke="#a02828"/>
<path d="M62,469 L130,469 L190,457" stroke="#000"/>
<path d="M62,480 L143,480" stroke="#505050"/>
<path d="M62,491 L132,491 L140,502" stroke="#999"/>
<path d="M62,502 L136,506" stroke="#ccc"/>
<path d="M56,511 L136,511 M56,513 L136,513" stroke="#8cd2fa"/>
<path d="M66,525 L130,525 L172,463" stroke="#ff9000"/>
<path d="M52,554 L190,554 M52,556 L190,556" stroke="#8cd2fa"/>
<path d="M52,568 L195,568" stroke="#a0a0a0"/>
<path d="M42,580 L136,580" stroke="#404040"/>
<path d="M76,593 L136,593" stroke="#202020"/>
<path d="M30,604 L218,604 L218,598" stroke="#ffb000"/>
<path d="M138,622 L150,622 L158,608" stroke="#000"/>
</g>
</svg>
</body></html>
